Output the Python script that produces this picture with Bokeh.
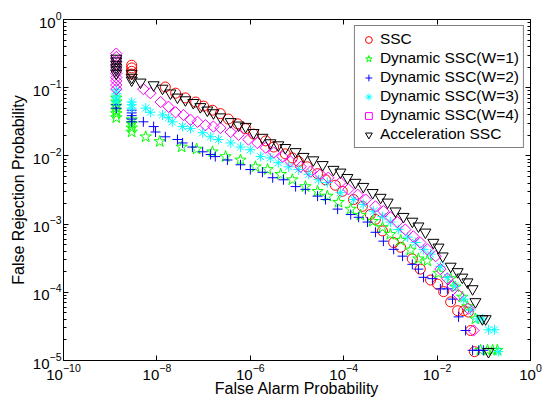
import numpy as np
from bokeh.plotting import figure
from bokeh.models import LogAxis, FixedTicker, Legend, LegendItem, Range1d, CustomJSTickFormatter
from bokeh.embed import file_html
from bokeh.resources import INLINE

# ---- data (log10 of probabilities) ----
ssc_log_fa = [-8.54, -8.54, -8.54, -8.54, -7.82, -7.60, -7.39, -7.17, -7.00, -6.81, -6.64, -6.47, -6.27, -6.10,
              -5.93, -5.67, -5.50, -5.25, -5.10, -4.97, -4.78, -4.56, -4.39, -4.18, -4.03, -3.79, -3.60, -3.43,
              -3.32, -3.17, -2.93, -2.78, -2.53, -2.36, -2.14, -1.99, -1.86, -1.71, -1.56, -1.43, -1.33, -1.28, -1.20]
ssc_log_fr = [-0.67, -0.71, -0.76, -0.80, -0.99, -1.08, -1.15, -1.21, -1.27, -1.33, -1.38, -1.46, -1.53, -1.60,
              -1.68, -1.78, -1.87, -1.97, -2.03, -2.08, -2.16, -2.26, -2.35, -2.43, -2.52, -2.64, -2.74, -2.86,
              -2.93, -3.10, -3.27, -3.34, -3.51, -3.66, -3.82, -3.88, -3.99, -4.14, -4.27, -4.27, -4.29, -4.56, -4.87]

w1_log_fa = [-8.87, -8.87, -8.87, -8.87, -8.87, -8.87, -8.54, -8.54, -8.54, -8.54,
             -8.24, -7.94, -7.47, -7.15, -6.81, -6.53, -6.21, -5.89, -5.63, -5.35, -5.10, -4.82, -4.56, -4.35,
             -4.11, -3.85, -3.64, -3.38, -3.17, -3.00, -2.78, -2.57, -2.40, -2.21, -1.97, -1.71, -1.61, -1.46,
             -1.35, -1.18, -1.07, -0.92, -0.81, -0.71]
w1_log_fr = [-1.15, -1.21, -1.27, -1.33, -1.38, -1.44, -1.47, -1.53, -1.59, -1.65,
             -1.72, -1.79, -1.87, -1.90, -1.94, -2.01, -2.06, -2.16, -2.20, -2.27, -2.35, -2.45, -2.52, -2.59,
             -2.68, -2.78, -2.87, -2.96, -3.05, -3.15, -3.24, -3.38, -3.51, -3.54, -3.72, -3.80, -3.92, -4.07,
             -4.21, -4.39, -4.85, -4.85, -4.85, -4.85]

w2_log_fa = [-8.87, -8.87, -8.54, -8.54, -8.54, -8.54, -8.54,
             -8.29, -8.07, -8.03, -7.82, -7.56, -7.45, -7.24, -7.02, -6.85, -6.75, -6.49, -6.21, -6.00, -5.74,
             -5.52, -5.29, -5.03, -4.82, -4.56, -4.39, -4.13, -3.85, -3.68, -3.49, -3.32, -3.15, -2.93, -2.74,
             -2.53, -2.40, -2.29, -2.10, -1.93, -1.78, -1.67, -1.54, -1.39, -1.24, -1.11, -1.01]
w2_log_fr = [-1.25, -1.30, -1.33, -1.37, -1.41, -1.46, -1.50,
             -1.50, -1.57, -1.65, -1.72, -1.76, -1.81, -1.87, -1.94, -1.98, -2.01, -2.06, -2.13, -2.20, -2.24,
             -2.32, -2.35, -2.45, -2.49, -2.59, -2.64, -2.78, -2.86, -2.90, -2.97, -3.12, -3.25, -3.37, -3.47,
             -3.59, -3.66, -3.78, -3.80, -3.95, -3.95, -4.10, -4.36, -4.56, -4.85, -4.85, -4.85]

w3_log_fa = [-8.87, -8.87, -8.87, -8.87, -8.54, -8.54, -8.54,
             -8.24, -8.14, -7.88, -7.75, -7.67, -7.45, -7.28, -7.02, -6.85, -6.68, -6.42, -6.21, -6.00, -5.78,
             -5.57, -5.40, -5.18, -4.97, -4.75, -4.54, -4.35, -4.07, -3.79, -3.58, -3.36, -3.17, -3.00, -2.83,
             -2.63, -2.46, -2.29, -2.14, -1.93, -1.78, -1.61, -1.43, -1.28, -1.13, -1.03, -0.90, -0.77, -0.69]
w3_log_fr = [-1.03, -1.09, -1.15, -1.21, -1.21, -1.25, -1.30,
             -1.30, -1.36, -1.40, -1.44, -1.50, -1.57, -1.60, -1.66, -1.72, -1.76, -1.81, -1.87, -1.91, -2.01,
             -2.03, -2.10, -2.16, -2.20, -2.27, -2.35, -2.39, -2.54, -2.64, -2.71, -2.81, -2.89, -2.97, -3.08,
             -3.19, -3.27, -3.37, -3.44, -3.62, -3.78, -3.91, -4.10, -4.26, -4.39, -4.39, -4.55, -4.55, -4.87]

w4_log_fa = [-8.87, -8.87, -8.87, -8.87, -8.87, -8.87, -8.87, -8.87, -8.87, -8.87,
             -8.29, -8.14, -7.92, -7.75, -7.60, -7.43, -7.28, -7.13, -6.96, -6.79, -6.64, -6.42, -6.25, -6.04,
             -5.85, -5.67, -5.50, -5.31, -5.14, -4.92, -4.71, -4.50, -4.33, -4.07, -3.90, -3.70, -3.53, -3.32,
             -3.15, -3.00, -2.85, -2.68, -2.51, -2.36, -2.21, -2.03, -1.93, -1.78, -1.67, -1.54, -1.33, -1.22]
w4_log_fr = [-0.50, -0.55, -0.61, -0.67, -0.73, -0.79, -0.85, -0.90, -0.96, -1.02,
             -1.02, -1.08, -1.21, -1.28, -1.36, -1.40, -1.47, -1.50, -1.55, -1.57, -1.59, -1.65, -1.69, -1.76,
             -1.81, -1.88, -1.95, -2.01, -2.08, -2.16, -2.23, -2.27, -2.32, -2.39, -2.49, -2.57, -2.64, -2.74,
             -2.81, -2.90, -2.97, -3.08, -3.18, -3.27, -3.37, -3.47, -3.66, -3.80, -3.91, -4.04, -4.24, -4.56]

acc_log_fa = [-8.87, -8.87, -8.87, -8.87, -8.87, -8.87, -8.54, -8.54, -8.54,
              -8.35, -8.07, -7.88, -7.71, -7.56, -7.39, -7.22, -7.07, -6.92, -6.79, -6.64, -6.42, -6.25, -6.10,
              -5.93, -5.74, -5.57, -5.40, -5.25, -5.03, -4.86, -4.65, -4.45, -4.22, -4.07, -3.92, -3.75, -3.58,
              -3.38, -3.21, -3.06, -2.89, -2.72, -2.53, -2.40, -2.25, -2.08, -1.97, -1.88, -1.71, -1.56, -1.46,
              -1.35, -1.24, -1.18, -1.03, -0.96, -0.90]
acc_log_fr = [-0.57, -0.61, -0.66, -0.70, -0.74, -0.79, -0.79, -0.85, -0.89,
              -0.92, -0.96, -1.01, -1.08, -1.14, -1.18, -1.22, -1.28, -1.33, -1.37, -1.43, -1.50, -1.55, -1.57,
              -1.66, -1.73, -1.81, -1.84, -1.88, -1.94, -2.01, -2.06, -2.13, -2.20, -2.24, -2.32, -2.39, -2.45,
              -2.54, -2.61, -2.68, -2.81, -2.89, -2.96, -3.03, -3.12, -3.27, -3.34, -3.47, -3.62, -3.70, -3.78,
              -3.85, -3.95, -4.14, -4.39, -4.39, -4.87]

series_names = ["SSC", "Dynamic SSC(W=1)", "Dynamic SSC(W=2)", "Dynamic SSC(W=3)",
                "Dynamic SSC(W=4)", "Acceleration SSC"]
series_fa = [ssc_log_fa, w1_log_fa, w2_log_fa, w3_log_fa, w4_log_fa, acc_log_fa]
series_fr = [ssc_log_fr, w1_log_fr, w2_log_fr, w3_log_fr, w4_log_fr, acc_log_fr]
series_colors = ["#ff0000", "#00ff00", "#0000ff", "#00ffff", "#ff00ff", "#000000"]
series_markers = ["circle", "star", "cross", "asterisk", "square", "inverted_triangle"]
series_sizes = [10, 12, 10, 10, 8, 11]
series_angles = [0, 0, 0, 0, np.pi / 4, 0]

x_ticks = [1e-10, 1e-8, 1e-6, 1e-4, 1e-2, 1e0]
y_ticks = [1e-5, 1e-4, 1e-3, 1e-2, 1e-1, 1e0]
y_minor = [k * 10.0 ** d for d in range(-5, 0) for k in range(2, 10)]
x_title = "False Alarm Probability"
y_title = "False Rejection Probability"

FONT = "Liberation Sans"

p = figure(width=546, height=399, x_axis_type="log", y_axis_type="log",
           x_range=Range1d(1e-10, 1e0), y_range=Range1d(1e-5, 1e0),
           output_backend="svg", toolbar_location=None,
           min_border_left=63, min_border_right=16, min_border_top=19, min_border_bottom=37)
p.grid.visible = False
p.outline_line_color = "black"
p.outline_line_width = 1

def style_axis(ax, ticks, minor, labels=True):
    ax.ticker = FixedTicker(ticks=ticks, minor_ticks=minor)
    ax.major_tick_in = 5
    ax.major_tick_out = 0
    ax.minor_tick_in = 3
    ax.minor_tick_out = 0
    ax.axis_line_color = "black"
    ax.major_tick_line_color = "black"
    ax.minor_tick_line_color = "black"
    ax.major_label_text_font = FONT
    ax.major_label_text_font_size = "15px"
    ax.major_label_text_color = "black"
    ax.axis_label_text_font = FONT
    ax.axis_label_text_font_size = "16px"
    ax.axis_label_text_font_style = "normal"
    ax.axis_label_text_color = "black"
    if not labels:
        ax.formatter = CustomJSTickFormatter(code="return ''")
        ax.major_label_text_font_size = "0px"
        ax.major_label_standoff = 0
        ax.axis_label_standoff = 0

style_axis(p.xaxis[0], x_ticks, [])
style_axis(p.yaxis[0], y_ticks, y_minor)
p.xaxis[0].axis_label = x_title
p.yaxis[0].axis_label = y_title
p.xaxis[0].major_label_standoff = 3
p.xaxis[0].axis_label_standoff = -3
p.yaxis[0].major_label_standoff = 2
p.yaxis[0].axis_label_standoff = 3

top_ax = LogAxis()
right_ax = LogAxis()
style_axis(top_ax, x_ticks, [], labels=False)
style_axis(right_ax, y_ticks, y_minor, labels=False)
p.add_layout(top_ax, "above")
p.add_layout(right_ax, "right")

items = []
for name, fa, fr, col, mk, sz, ang in zip(series_names, series_fa, series_fr, series_colors,
                                           series_markers, series_sizes, series_angles):
    xs = np.power(10.0, np.array(fa))
    ys = np.power(10.0, np.array(fr))
    r = p.scatter(xs, ys, marker=mk, size=sz, angle=ang, line_color=col, fill_color=None, line_width=1)
    items.append(LegendItem(label=name, renderers=[r]))

legend = Legend(items=items, location="top_right")
legend.label_text_font = FONT
legend.label_text_font_size = "15.5px"
legend.label_text_color = "black"
legend.border_line_color = "black"
legend.border_line_width = 1
legend.background_fill_color = "white"
legend.background_fill_alpha = 1
legend.glyph_width = 19
legend.glyph_height = 17
legend.label_height = 17
legend.spacing = 1
legend.padding = 4
legend.margin = 6
legend.label_standoff = 2
p.add_layout(legend)

open("out.html", "w").write(file_html(p, INLINE))
